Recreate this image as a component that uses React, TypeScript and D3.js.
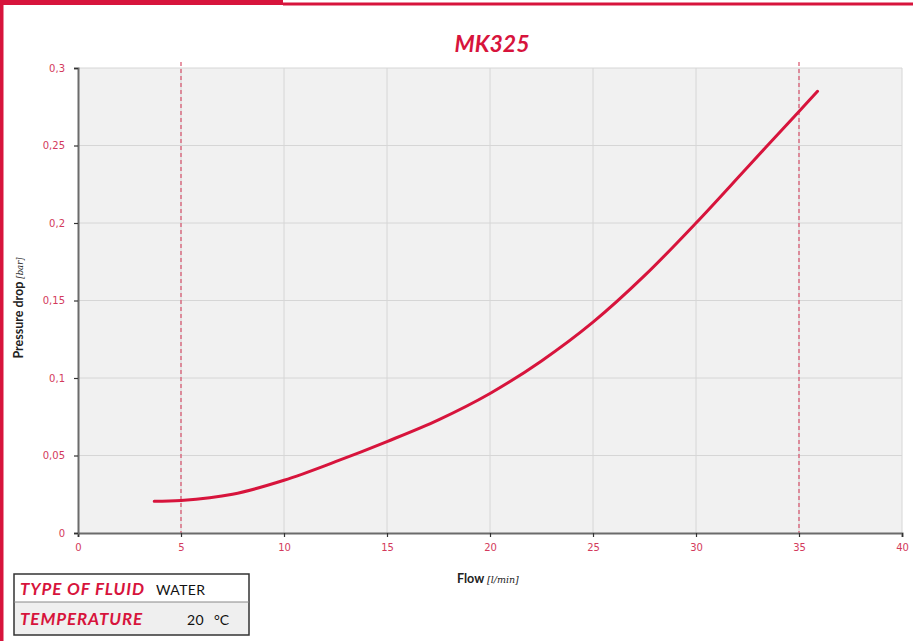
import { useEffect, useRef } from "react";
import * as d3 from "d3";

const WIDTH = 913;
const HEIGHT = 641;
const MARGIN = { top: 68, right: 11, bottom: 108, left: 78 };

const RED = "#d7143c";
const TICK_RED = "#d33a5c";

// flow [l/min] vs pressure drop [bar]
const flow = [3.7, 5, 7.5, 10, 12.5, 15, 17.5, 20, 22.5, 25, 27.5, 30, 32.5, 35, 35.9];
const pressure = [
  0.0205, 0.021, 0.025, 0.034, 0.046, 0.059, 0.073, 0.09, 0.111, 0.136, 0.166,
  0.2, 0.236, 0.272, 0.285,
];

const xTicks = [0, 5, 10, 15, 20, 25, 30, 35, 40];
const yTicks = [0, 0.05, 0.1, 0.15, 0.2, 0.25, 0.3];
const limitLines = [5, 35];

const fluidRows = [
  { label: "TYPE OF FLUID", value: "WATER", unit: "" },
  { label: "TEMPERATURE", value: "20", unit: "°C" },
];

const fmt = (v: number) => String(v).replace(".", ",");

export default function App() {
  const axesRef = useRef(null);
  const boundsWidth = WIDTH - MARGIN.left - MARGIN.right;
  const boundsHeight = HEIGHT - MARGIN.top - MARGIN.bottom;

  const xScale = d3.scaleLinear().domain([0, 40]).range([0, boundsWidth]);
  const yScale = d3.scaleLinear().domain([0, 0.3]).range([boundsHeight, 0]);

  useEffect(() => {
    const g = d3.select(axesRef.current);
    g.selectAll("*").remove();

    const xAxis = g
      .append("g")
      .attr("transform", `translate(0,${boundsHeight})`)
      .call(d3.axisBottom(xScale).tickValues(xTicks).tickSize(4).tickPadding(7).tickFormat((d) => fmt(d as number)));
    const yAxis = g
      .append("g")
      .call(d3.axisLeft(yScale).tickValues(yTicks).tickSize(4).tickPadding(9).tickFormat((d) => fmt(d as number)));

    [xAxis, yAxis].forEach((a) => {
      a.select(".domain").attr("stroke", "#6b6b6b").attr("stroke-width", 2);
      a.selectAll(".tick line").attr("stroke", "#333").attr("stroke-width", 1.2);
      a.selectAll(".tick text")
        .attr("fill", TICK_RED)
        .attr("font-size", 10)
        .attr("font-family", "DejaVu Sans, sans-serif");
    });
  }, [boundsHeight]);

  const line = d3
    .line<number>()
    .x((d) => xScale(d))
    .y((_, i) => yScale(pressure[i]))
    .curve(d3.curveCatmullRom);

  return (
    <svg width={WIDTH} height={HEIGHT} style={{ position: "absolute", left: 0, top: 0 }}>
      <rect x={0} y={0} width={WIDTH} height={HEIGHT} fill="#fff" />
      {/* frame */}
      <rect x={0} y={0} width={283} height={5} fill={RED} />
      <rect x={283} y={2.5} width={WIDTH - 283} height={3} fill={RED} />
      <rect x={0} y={0} width={3.5} height={HEIGHT} fill={RED} />

      <text
        x={MARGIN.left + boundsWidth / 2 + 2}
        y={52}
        textAnchor="middle"
        fill={RED}
        fontSize={23}
        fontWeight={700}
        fontStyle="italic"
        fontFamily="Lato, sans-serif"
      >
        MK325
      </text>

      <g transform={`translate(${MARGIN.left},${MARGIN.top})`}>
        <rect width={boundsWidth} height={boundsHeight} fill="#f1f1f1" />
        {xTicks.slice(1).map((t) => (
          <line key={"gx" + t} x1={xScale(t)} x2={xScale(t)} y1={0} y2={boundsHeight} stroke="#d6d6d6" />
        ))}
        {yTicks.slice(1).map((t) => (
          <line key={"gy" + t} x1={0} x2={boundsWidth} y1={yScale(t)} y2={yScale(t)} stroke="#d6d6d6" />
        ))}
        {limitLines.map((t) => (
          <line
            key={"l" + t}
            x1={xScale(t)}
            x2={xScale(t)}
            y1={-6}
            y2={boundsHeight}
            stroke="#d8506a"
            strokeWidth={1.2}
            strokeDasharray="4 3"
          />
        ))}
        <path d={line(flow) ?? ""} fill="none" stroke={RED} strokeWidth={3} strokeLinecap="round" />
      </g>
      <g ref={axesRef} transform={`translate(${MARGIN.left},${MARGIN.top})`} />

      <text x={457} y={583} fontFamily="Lato, sans-serif" fontSize={12.5} fill="#222">
        <tspan fontWeight={700}>Flow </tspan>
        <tspan fontFamily="DejaVu Serif, serif" fontStyle="italic" fontSize={9.5}>
          [l/min]
        </tspan>
      </text>
      <text
        transform={`translate(23,308) rotate(-90)`}
        textAnchor="middle"
        fontFamily="Lato, sans-serif"
        fontSize={12.5}
        fill="#222"
      >
        <tspan fontWeight={700}>Pressure drop </tspan>
        <tspan fontFamily="DejaVu Serif, serif" fontStyle="italic" fontSize={8.5}>
          [bar]
        </tspan>
      </text>

      {/* fluid table */}
      <g transform="translate(14,574)">
        <rect x={0} y={28} width={235} height={33} fill="#efefef" />
        <rect x={0} y={0} width={235} height={61} fill="none" stroke="#333" strokeWidth={1.5} />
        <line x1={0} x2={235} y1={28} y2={28} stroke="#888" strokeWidth={1} />
        {fluidRows.map((r, i) => (
          <g key={r.label} transform={`translate(0,${i * 30 + 21})`}>
            <text
              x={6}
              fill={RED}
              fontSize={17}
              letterSpacing={0.9}
              fontWeight={700}
              fontStyle="italic"
              fontFamily="Lato, sans-serif"
            >
              {r.label}
            </text>
            <text x={i === 0 ? 142 : 173} fill="#111" fontSize={14} letterSpacing={0.4} fontFamily="Lato, sans-serif">
              {r.value}
            </text>
            {r.unit && (
              <text x={200} fill="#111" fontSize={14} fontFamily="Lato, sans-serif">
                {r.unit}
              </text>
            )}
          </g>
        ))}
      </g>
    </svg>
  );
}
